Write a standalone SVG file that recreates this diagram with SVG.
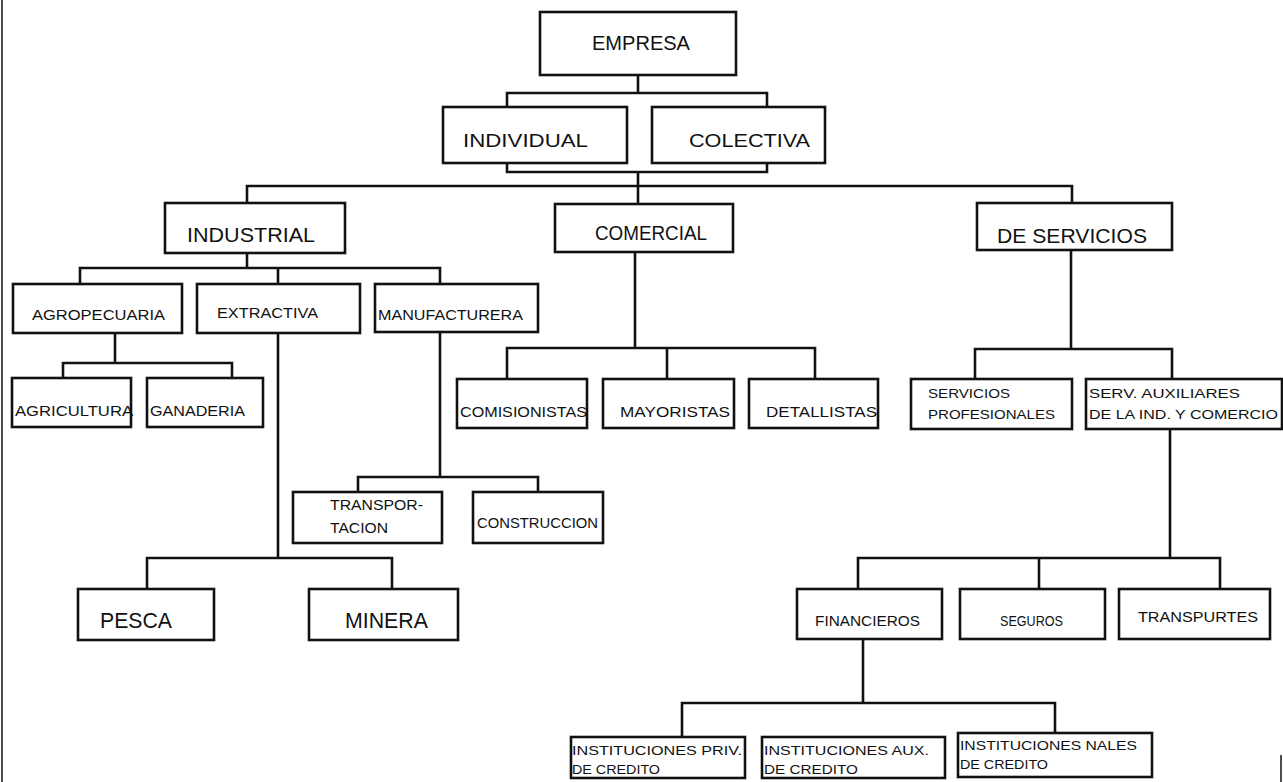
<svg xmlns="http://www.w3.org/2000/svg" width="1283" height="782" viewBox="0 0 1283 782">
<style>
.b{fill:#fff;stroke:#111;stroke-width:2.6}
.c{fill:none;stroke:#111;stroke-width:2.6;stroke-linejoin:miter}
text{font-family:"Liberation Sans",Arial,sans-serif;fill:#111}
.l{font-size:20px}
.m{font-size:19px}
.s{font-size:15px}
.x{font-size:13px}
.p{font-size:22px}
</style>
<rect width="1283" height="782" fill="#fff"/>
<line x1="2" y1="0" x2="2" y2="782" stroke="#222" stroke-width="1.6"/>
<line x1="1281" y1="755" x2="1281" y2="782" stroke="#222" stroke-width="1.6"/>
<g id="connectors" class="c">
<path d="M638 75V93M507 107V93H767V107"/>
<path d="M507 163V172H767V163M638 172V186"/>
<path d="M247 203V186H1072V203M638 186V204"/>
<path d="M247 253V268M80 284V268H440V284M278 268V284"/>
<path d="M115 333V363M63 378V363H232V378"/>
<path d="M278 333V558M147 589V558H392V589"/>
<path d="M440 332V477M358 492V477H538V492"/>
<path d="M635 252V348M507 379V348H815V379M667 348V379"/>
<path d="M1071 250V349M975 379V349H1172V379"/>
<path d="M1170 429V558M858 589V558H1220V589M1039 558V589"/>
<path d="M863 639V703M682 737V703H1055V733"/>
</g>
<g id="empresa"><rect class="b" x="540" y="12" width="196" height="63"/><text class="l" x="592" y="50" textLength="98" lengthAdjust="spacingAndGlyphs">EMPRESA</text></g>
<g id="individual"><rect class="b" x="443" y="107" width="184" height="56"/><text class="m" x="463" y="147" textLength="125" lengthAdjust="spacingAndGlyphs">INDIVIDUAL</text></g>
<g id="colectiva"><rect class="b" x="652" y="107" width="173" height="56"/><text class="m" x="689" y="147" textLength="121" lengthAdjust="spacingAndGlyphs">COLECTIVA</text></g>
<g id="industrial"><rect class="b" x="165" y="203" width="180" height="50"/><text class="l" x="187" y="242" textLength="128" lengthAdjust="spacingAndGlyphs">INDUSTRIAL</text></g>
<g id="comercial"><rect class="b" x="555" y="204" width="178" height="48"/><text class="l" x="595" y="240" textLength="112" lengthAdjust="spacingAndGlyphs">COMERCIAL</text></g>
<g id="de-servicios"><rect class="b" x="977" y="203" width="195" height="47"/><text class="l" x="997" y="243" textLength="150" lengthAdjust="spacingAndGlyphs">DE SERVICIOS</text></g>
<g id="agropecuaria"><rect class="b" x="13" y="284" width="169" height="49"/><text class="s" x="32" y="320" textLength="133" lengthAdjust="spacingAndGlyphs">AGROPECUARIA</text></g>
<g id="extractiva"><rect class="b" x="197" y="284" width="163" height="49"/><text class="s" x="217" y="318" textLength="101" lengthAdjust="spacingAndGlyphs">EXTRACTIVA</text></g>
<g id="manufacturera"><rect class="b" x="375" y="284" width="163" height="48"/><text class="s" x="378" y="320" textLength="145" lengthAdjust="spacingAndGlyphs">MANUFACTURERA</text></g>
<g id="agricultura"><rect class="b" x="12" y="378" width="119" height="49"/><text class="s" x="15" y="416" textLength="118" lengthAdjust="spacingAndGlyphs">AGRICULTURA</text></g>
<g id="ganaderia"><rect class="b" x="147" y="378" width="116" height="49"/><text class="s" x="150" y="416" textLength="95" lengthAdjust="spacingAndGlyphs">GANADERIA</text></g>
<g id="transportacion"><rect class="b" x="293" y="492" width="149" height="51"/><text class="s" x="330" y="510" textLength="93" lengthAdjust="spacingAndGlyphs">TRANSPOR-</text><text class="s" x="330" y="533" textLength="58" lengthAdjust="spacingAndGlyphs">TACION</text></g>
<g id="construccion"><rect class="b" x="473" y="492" width="130" height="51"/><text class="s" x="477" y="528" textLength="121" lengthAdjust="spacingAndGlyphs">CONSTRUCCION</text></g>
<g id="comisionistas"><rect class="b" x="457" y="379" width="130" height="49"/><text class="s" x="460" y="417" textLength="127" lengthAdjust="spacingAndGlyphs">COMISIONISTAS</text></g>
<g id="mayoristas"><rect class="b" x="603" y="379" width="131" height="49"/><text class="s" x="620" y="417" textLength="110" lengthAdjust="spacingAndGlyphs">MAYORISTAS</text></g>
<g id="detallistas"><rect class="b" x="749" y="379" width="129" height="49"/><text class="s" x="766" y="417" textLength="111" lengthAdjust="spacingAndGlyphs">DETALLISTAS</text></g>
<g id="servicios-profesionales"><rect class="b" x="911" y="379" width="161" height="50"/><text class="x" x="928" y="398" textLength="82" lengthAdjust="spacingAndGlyphs">SERVICIOS</text><text class="x" x="928" y="419" textLength="127" lengthAdjust="spacingAndGlyphs">PROFESIONALES</text></g>
<g id="serv-auxiliares"><rect class="b" x="1086" y="379" width="196" height="50"/><text class="x" x="1089" y="398" textLength="151" lengthAdjust="spacingAndGlyphs">SERV. AUXILIARES</text><text class="x" x="1089" y="419" textLength="189" lengthAdjust="spacingAndGlyphs">DE LA IND. Y COMERCIO</text></g>
<g id="pesca"><rect class="b" x="78" y="589" width="136" height="51"/><text class="p" x="100" y="628" textLength="72" lengthAdjust="spacingAndGlyphs">PESCA</text></g>
<g id="minera"><rect class="b" x="309" y="589" width="149" height="51"/><text class="p" x="345" y="628" textLength="83" lengthAdjust="spacingAndGlyphs">MINERA</text></g>
<g id="financieros"><rect class="b" x="797" y="589" width="145" height="50"/><text class="s" x="815" y="626" textLength="105" lengthAdjust="spacingAndGlyphs">FINANCIEROS</text></g>
<g id="seguros"><rect class="b" x="960" y="589" width="145" height="50"/><text class="s" x="1000" y="626" textLength="63" lengthAdjust="spacingAndGlyphs">SEGUROS</text></g>
<g id="transportes"><rect class="b" x="1119" y="589" width="151" height="50"/><text class="s" x="1138" y="622" textLength="120" lengthAdjust="spacingAndGlyphs">TRANSPURTES</text></g>
<g id="inst-priv"><rect class="b" x="571" y="737" width="174" height="41"/><text class="x" x="572" y="755" textLength="170" lengthAdjust="spacingAndGlyphs">INSTITUCIONES PRIV.</text><text class="x" x="572" y="774" textLength="88" lengthAdjust="spacingAndGlyphs">DE CREDITO</text></g>
<g id="inst-aux"><rect class="b" x="762" y="737" width="183" height="41"/><text class="x" x="764" y="755" textLength="165" lengthAdjust="spacingAndGlyphs">INSTITUCIONES AUX.</text><text class="x" x="764" y="774" textLength="94" lengthAdjust="spacingAndGlyphs">DE CREDITO</text></g>
<g id="inst-nales"><rect class="b" x="958" y="733" width="194" height="44"/><text class="x" x="960" y="750" textLength="177" lengthAdjust="spacingAndGlyphs">INSTITUCIONES NALES</text><text class="x" x="960" y="769" textLength="88" lengthAdjust="spacingAndGlyphs">DE CREDITO</text></g>
</svg>
